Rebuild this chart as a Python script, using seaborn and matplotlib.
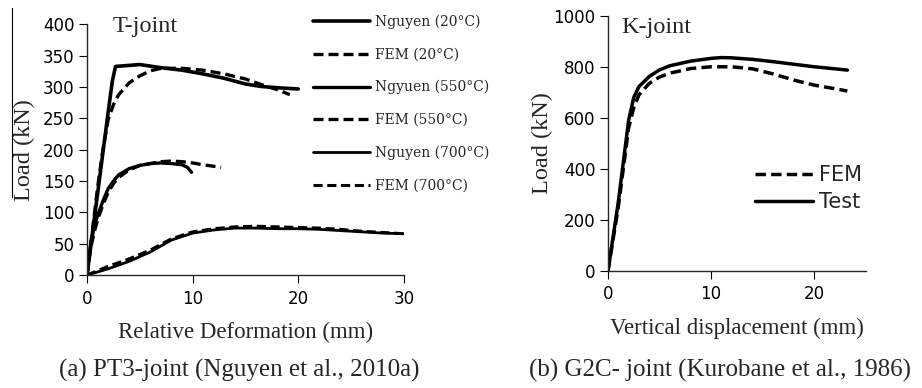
import numpy as np
import matplotlib.pyplot as plt
import seaborn as sns
import pandas as pd
from matplotlib.lines import Line2D

# T-joint (PT3) curves, x = relative deformation (mm), y = load (kN)
ng20_x = [0, 0.5, 1.0, 1.5, 2.0, 2.4, 2.7, 3.5, 5.0, 7.0, 9.0, 11.0, 13.0, 15.0, 16.5, 18.0, 20.0]
ng20_y = [0, 65, 130, 195, 260, 310, 333, 334, 336, 331, 327, 321, 314, 305, 301, 299, 297]
fem20_x = [0, 0.5, 1.0, 1.5, 2.0, 2.5, 3.0, 4.0, 5.0, 6.0, 7.0, 9.0, 11.0, 13.0, 15.0, 16.5, 18.0, 19.2]
fem20_y = [0, 70, 140, 200, 248, 272, 288, 307, 318, 326, 330, 330, 327, 321, 313, 304, 296, 288]
ng550_x = [0, 0.3, 0.7, 1.0, 1.5, 2.0, 2.5, 3.0, 4.0, 5.0, 6.0, 7.0, 8.0, 9.0, 9.5, 9.9]
ng550_y = [0, 45, 80, 95, 118, 138, 150, 160, 170, 175, 178, 179, 178, 176, 172, 164]
fem550_x = [0, 0.3, 0.7, 1.0, 1.5, 2.0, 2.5, 3.0, 4.0, 5.0, 6.0, 7.0, 8.0, 9.0, 10.0, 11.0, 12.7]
fem550_y = [0, 40, 70, 88, 112, 132, 146, 156, 168, 175, 178, 181, 182, 181, 179, 176, 172]
ng700_x = [0, 2, 4, 6, 8, 10, 12, 14, 16, 18, 20, 22, 24, 26, 28, 30]
ng700_y = [0, 10, 22, 37, 56, 67, 72, 75, 75, 74, 74, 73, 71, 69, 67, 66]
fem700_x = [0, 2, 4, 6, 8, 10, 12, 14, 16, 18, 20, 22, 24, 26, 28, 30]
fem700_y = [0, 14, 26, 40, 58, 69, 74, 77, 78, 77, 76, 75, 73, 70, 68, 66]

t_labels = ['Nguyen (20°C)', 'FEM (20°C)', 'Ngyuen (550°C)',
            'FEM (550°C)', 'Nguyen (700°C)', 'FEM (700°C)']

# K-joint (G2C) curves, x = vertical displacement (mm), y = load (kN)
test_x = [0, 1.0, 2.0, 2.5, 3.0, 4.0, 5.0, 6.0, 8.0, 10.0, 11.0, 12.0, 14.0, 16.0, 18.0, 20.0, 22.0, 23.2]
test_y = [0, 270, 590, 680, 722, 762, 788, 804, 822, 833, 836, 835, 829, 820, 810, 800, 792, 787]
fem_x = [0, 1.0, 2.0, 2.5, 3.0, 4.0, 5.0, 6.0, 8.0, 10.0, 12.0, 14.0, 16.0, 18.0, 20.0, 22.0, 23.2]
fem_y = [0, 250, 560, 640, 690, 735, 760, 775, 793, 800, 800, 792, 772, 748, 728, 714, 705]

sns.set_style("ticks")
plt.rcParams['font.family'] = ['DejaVu Sans']
plt.rcParams['axes.linewidth'] = 1.0
plt.rcParams['xtick.major.size'] = 6
plt.rcParams['ytick.major.size'] = 6
plt.rcParams['xtick.color'] = 'black'
plt.rcParams['ytick.color'] = 'black'

serif = 'Liberation Serif'

fig = plt.figure(figsize=(9.22, 3.88), dpi=100)

# ---- left panel: T-joint
ax1 = fig.add_axes([0.0944, 0.291, 0.3436, 0.646])
t_frames = []
for lab, xs, ys in zip(t_labels,
                       [ng20_x, fem20_x, ng550_x, fem550_x, ng700_x, fem700_x],
                       [ng20_y, fem20_y, ng550_y, fem550_y, ng700_y, fem700_y]):
    t_frames.append(pd.DataFrame({'x': xs, 'y': ys, 'series': lab}))
t_df = pd.concat(t_frames, ignore_index=True)

dash = (3.0, 1.5)
t_dashes = {lab: ('' if i % 2 == 0 else dash) for i, lab in enumerate(t_labels)}
t_widths = [2.6, 2.4, 2.4, 2.4, 2.0, 2.2]
sns.lineplot(data=t_df, x='x', y='y', hue='series', style='series',
             palette=['black'] * 6, dashes=t_dashes, estimator=None,
             sort=False, ax=ax1, linewidth=2.4)
for line, w in zip(ax1.get_lines(), t_widths):
    line.set_linewidth(w)

ax1.set_xlim(0, 30)
ax1.set_ylim(0, 400)
ax1.set_xticks([0, 10, 20, 30])
ax1.set_yticks(range(0, 401, 50))
ax1.tick_params(axis='x', labelsize=12, pad=5)
ax1.tick_params(axis='y', labelsize=12, pad=3)
ax1.set_xlabel('Relative Deformation (mm)', family=serif, fontsize=16.5, labelpad=10)
ax1.set_ylabel('Load (kN)', family=serif, fontsize=17.5, labelpad=6)
ax1.text(0.08, 0.99, 'T-joint', transform=ax1.transAxes, family=serif,
         fontsize=17.5, va='center')
handles, labels = ax1.get_legend_handles_labels()
for h, w in zip(handles, t_widths):
    h.set_linewidth(w)
ax1.legend(handles, labels, loc='upper left', bbox_to_anchor=(0.713, 1.04),
           frameon=False, borderpad=0, borderaxespad=0, handlelength=4.1,
           handletextpad=0.35, labelspacing=1.34,
           prop={'family': 'DejaVu Serif', 'size': 10})
sns.despine(ax=ax1)

# ---- right panel: K-joint
ax2 = fig.add_axes([0.6594, 0.3015, 0.2798, 0.658])
k_df = pd.concat([pd.DataFrame({'x': fem_x, 'y': fem_y, 'series': 'FEM'}),
                  pd.DataFrame({'x': test_x, 'y': test_y, 'series': 'Test'})],
                 ignore_index=True)
sns.lineplot(data=k_df, x='x', y='y', hue='series', style='series',
             palette=['black', 'black'], dashes={'FEM': dash, 'Test': ''},
             estimator=None, sort=False, ax=ax2, linewidth=2.5)
ax2.set_xlim(0, 25)
ax2.set_ylim(0, 1000)
ax2.set_xticks([0, 10, 20])
ax2.set_yticks(range(0, 1001, 200))
ax2.tick_params(axis='x', labelsize=12, pad=4)
ax2.tick_params(axis='y', labelsize=12, pad=3)
ax2.set_xlabel('Vertical displacement (mm)', family=serif, fontsize=16.5, labelpad=11)
ax2.set_ylabel('Load (kN)', family=serif, fontsize=17.5, labelpad=0)
ax2.text(0.05, 0.955, 'K-joint', transform=ax2.transAxes, family=serif,
         fontsize=17.5, va='center')
handles, labels = ax2.get_legend_handles_labels()
ax2.legend(handles, labels, loc='upper left', bbox_to_anchor=(0.57, 0.415),
           frameon=False, borderpad=0, borderaxespad=0, handlelength=2.8,
           handletextpad=0.25, labelspacing=0.35, prop={'size': 15})
sns.despine(ax=ax2)

# captions
fig.text(0.259, 0.045, '(a) PT3-joint (Nguyen et al., 2010a)', family=serif,
         fontsize=18, ha='center', va='center')
fig.text(0.781, 0.045, '(b) G2C- joint (Kurobane et al., 1986)', family=serif,
         fontsize=18, ha='center', va='center')

# thin rule left of the first y label, as in the source image
fig.add_artist(Line2D([12 / 922, 12 / 922], [1 - 8 / 388, 1 - 197 / 388],
                      color='black', linewidth=0.8, transform=fig.transFigure))

fig.savefig('out.png', dpi=100)
